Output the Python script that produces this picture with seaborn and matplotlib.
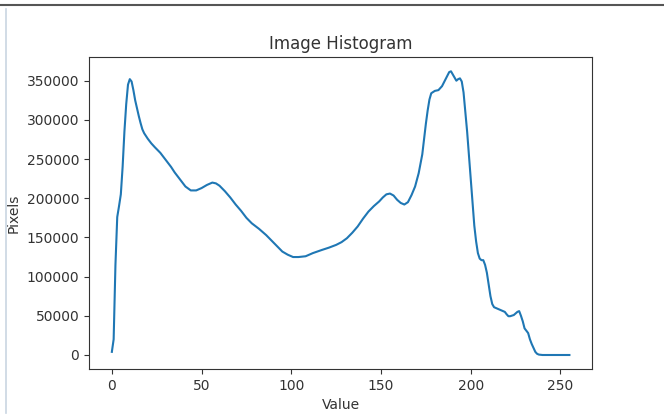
import numpy as np
import pandas as pd
import seaborn as sns
import matplotlib
matplotlib.use("Agg")
import matplotlib.pyplot as plt
from matplotlib.lines import Line2D

# grey level values
values = [0, 1, 2, 3, 4, 5, 6, 7, 8, 9, 10, 11, 12, 13, 14, 15, 16, 17, 18, 20,
          22, 24, 27, 30, 33, 35, 38, 41, 44, 47, 50, 53, 56, 58, 60, 63, 66, 69,
          72, 75, 78, 82, 86, 89, 92, 95, 98, 101, 104, 108, 112, 117, 121, 125,
          128, 131, 134, 137, 140, 143, 146, 149, 151, 153, 155, 157, 159, 161,
          163, 165, 167, 169, 171, 173, 175, 176, 177, 178, 180, 182, 184, 186,
          188, 189, 190, 192, 193, 194, 195, 196, 197, 198, 199, 200, 201, 202,
          203, 204, 205, 206, 207, 208, 209, 210, 211, 212, 213, 215, 217, 219,
          220, 221, 222, 224, 226, 227, 228, 229, 230, 231, 232, 233, 234, 235,
          236, 237, 238, 240, 255]

pixels = [4000, 20000, 115000, 176000, 190000, 205000, 240000, 285000, 320000,
          345000, 352000, 349000, 338000, 325000, 315000, 305000, 296000, 288000,
          283000, 276000, 270000, 265000, 258000, 249000, 240000, 233000, 224000,
          215000, 210000, 210000, 213000, 217000, 220000, 219000, 216000, 209000,
          201000, 192000, 184000, 175000, 168000, 161000, 153000, 146000, 139000,
          132000, 128000, 125000, 125000, 126000, 130000, 134000, 137000, 140500,
          144000, 149000, 156000, 164000, 174000, 183000, 190000, 196000, 201000,
          205000, 206000, 203500, 198000, 194000, 192000, 195000, 204000, 215000,
          232000, 256000, 295000, 312000, 326000, 334000, 337000, 338000, 343000,
          352000, 361000, 362000, 358000, 350000, 352000, 353000, 349000, 335000,
          310000, 285000, 255000, 225000, 195000, 165000, 145000, 130000, 123000,
          121000, 121000, 115000, 105000, 90000, 75000, 65000, 61000, 59000,
          57000, 55000, 52000, 49500, 49500, 51000, 55000, 56000, 50000, 43000,
          34000, 31000, 28000, 20000, 14000, 9000, 4000, 1500, 500, 0, 0]

df = pd.DataFrame({"Value": values, "Pixels": pixels})

fig = plt.figure(figsize=(6.64, 4.2), dpi=100)
ax = fig.add_subplot(111)
fig.subplots_adjust(left=0.134, right=0.892, bottom=0.121, top=0.864)

sns.lineplot(data=df, x="Value", y="Pixels", ax=ax, color="#1f77b4", linewidth=1.5)

txt = "#333333"
ax.set_title("Image Histogram", fontsize=12, color=txt)
ax.set_xlabel("Value", fontsize=10, color=txt)
ax.set_ylabel("Pixels", fontsize=10, color=txt)
ax.set_xticks([0, 50, 100, 150, 200, 250])
ax.set_yticks(np.arange(0, 350001, 50000))
ax.tick_params(labelsize=10, labelcolor=txt, color="#333333")
for s in ax.spines.values():
    s.set_color("#333333")

# screenshot frame lines
fig.add_artist(Line2D([0, 1], [0.989, 0.989], color="#555555", linewidth=1.5,
                      transform=fig.transFigure))
fig.add_artist(Line2D([0.0095, 0.0095], [0.017, 0.979], color="#c9d5e2", linewidth=1.2,
                      transform=fig.transFigure))

fig.savefig("out.png", dpi=100)
